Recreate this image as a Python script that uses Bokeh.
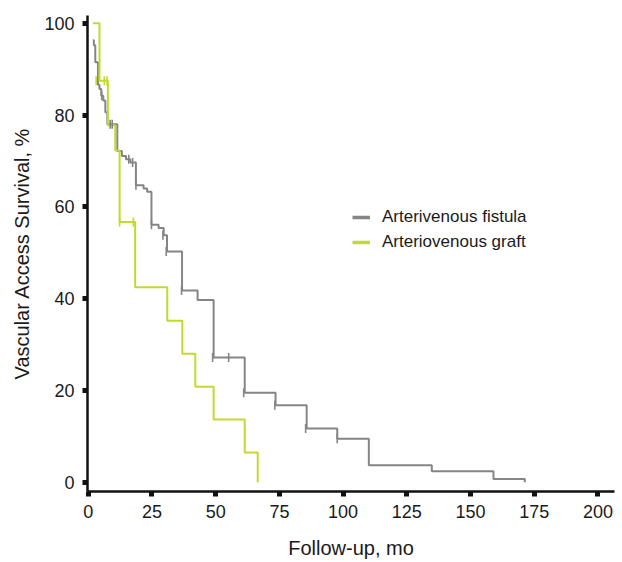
from bokeh.plotting import figure
from bokeh.models import Legend, LegendItem, Range1d, FixedTicker
from bokeh.embed import file_html
from bokeh.resources import INLINE

# Arteriovenous fistula (grey) Kaplan-Meier steps
avf_t = [1.8, 2.2, 2.75, 3.8, 4.4, 5.1, 5.9, 6.7, 7.5, 11.4, 13.2, 14.8, 16.5, 18.7, 21.7, 23.1,
         24.8, 27.6, 29.6, 30.9, 36.8, 42.9, 49.2, 61.4, 73.5, 85.7, 97.7, 110.1, 134.8, 159.0, 171.3]
avf_s = [96.3, 95.2, 91.5, 86.6, 85.7, 84.2, 83.2, 80.6, 78.0, 72.2, 71.1, 70.4, 69.7, 64.7, 64.0, 63.3,
         56.1, 55.4, 53.8, 50.3, 41.8, 39.7, 27.2, 19.5, 16.8, 11.7, 9.5, 3.7, 2.4, 0.7, 0.0]
avf_cens_t = [5.3, 8.6, 9.4, 15.9, 17.4, 18.7, 24.8, 29.3, 30.6, 36.6, 48.8, 55.1, 61.0, 73.2, 85.3, 97.7]
avf_cens_s = [84.2, 78.0, 78.0, 70.4, 69.7, 64.7, 56.1, 53.8, 50.3, 41.8, 27.2, 27.2, 19.5, 16.8, 11.7, 9.5]

# Arteriovenous graft (green) Kaplan-Meier steps
avg_t = [1.8, 4.4, 7.7, 10.6, 12.3, 18.4, 31.0, 36.9, 42.0, 49.2, 61.4, 66.5]
avg_s = [100.0, 87.5, 77.8, 72.3, 56.7, 42.5, 35.2, 28.0, 20.8, 13.7, 6.5, 0.0]
avg_cens_t = [3.1, 6.3, 7.4, 12.3, 17.7]
avg_cens_s = [87.5, 87.5, 87.5, 56.7, 56.7]

series_names = ["Arterivenous fistula", "Arteriovenous graft"]
x_ticks = [0, 25, 50, 75, 100, 125, 150, 175, 200]
y_ticks = [0, 20, 40, 60, 80, 100]

GREY = "#858585"
GREEN = "#c3d92f"
FONT = "Liberation Sans"

p = figure(width=620, height=561, output_backend="svg", toolbar_location=None,
           x_range=Range1d(-0.3, 206.5), y_range=Range1d(-2.0, 101.7),
           min_border_left=87, min_border_top=15, min_border_right=6, min_border_bottom=70)
p.outline_line_color = None
p.grid.visible = False
p.background_fill_color = "white"

p.step(avf_t, avf_s, mode="after", line_color=GREY, line_width=2)
p.step(avg_t, avg_s, mode="after", line_color=GREEN, line_width=2)
p.scatter(avf_cens_t, avf_cens_s, marker="dash", angle=1.5708, size=9, line_color=GREY, line_width=1.6)
p.scatter(avg_cens_t, avg_cens_s, marker="dash", angle=1.5708, size=9, line_color=GREEN, line_width=1.6)

nan = float("nan")
l1 = p.line([nan, nan], [nan, nan], line_color=GREY, line_width=3.5)
l2 = p.line([nan, nan], [nan, nan], line_color=GREEN, line_width=3.5)
legend = Legend(items=[LegendItem(label=series_names[0], renderers=[l1]),
                       LegendItem(label=series_names[1], renderers=[l2])],
                location=(265, 239), margin=0, padding=0, spacing=5,
                glyph_width=18, glyph_height=20, label_height=20, label_standoff=12,
                label_text_font=FONT, label_text_font_size="17px", label_text_color="#1a1a1a",
                border_line_alpha=0, background_fill_alpha=0)
p.add_layout(legend, "center")

for ax in (p.xaxis[0], p.yaxis[0]):
    ax.axis_line_width = 2.5
    ax.axis_line_color = "#111111"
    ax.major_tick_line_width = 5
    ax.major_tick_line_color = "#111111"
    ax.major_tick_in = 0
    ax.major_tick_out = 5
    ax.minor_tick_line_color = None
    ax.major_label_text_font = FONT
    ax.major_label_text_font_size = "18px"
    ax.major_label_text_color = "#1a1a1a"
    ax.axis_label_text_font = FONT
    ax.axis_label_text_font_size = "20px"
    ax.axis_label_text_font_style = "normal"
    ax.axis_label_text_color = "#1a1a1a"

p.xaxis[0].ticker = FixedTicker(ticks=x_ticks)
p.yaxis[0].ticker = FixedTicker(ticks=y_ticks)
p.xaxis[0].axis_label = "Follow-up, mo"
p.yaxis[0].axis_label = "Vascular Access Survival, %"
p.xaxis[0].major_label_standoff = 8
p.yaxis[0].major_label_standoff = 8
p.xaxis[0].axis_label_standoff = 16
p.yaxis[0].axis_label_standoff = 8

open("out.html", "w").write(file_html(p, INLINE))
